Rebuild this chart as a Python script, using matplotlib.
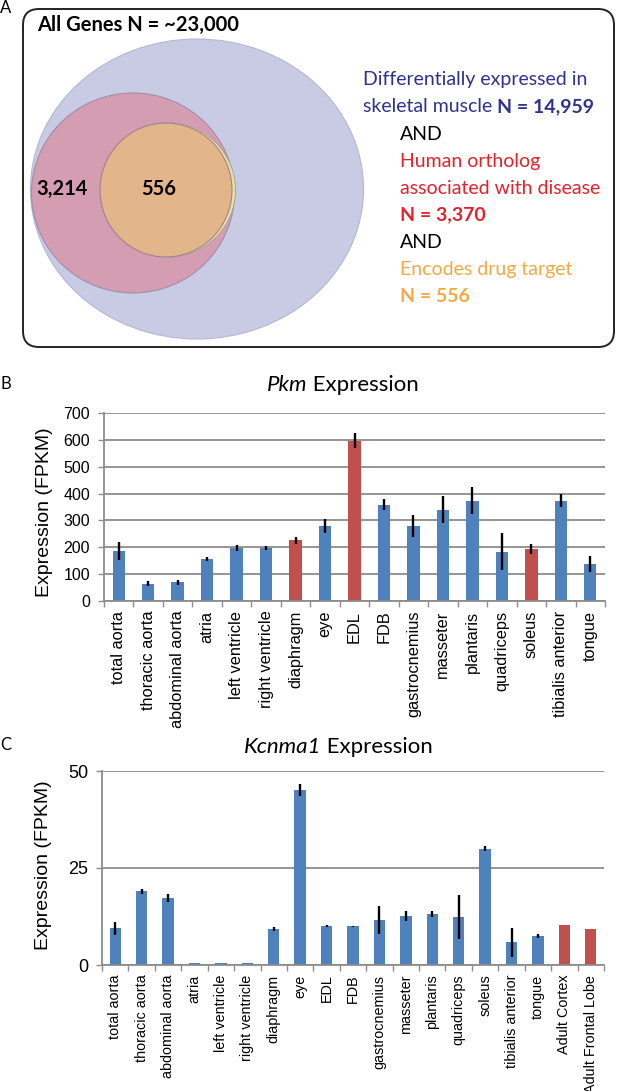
import matplotlib
matplotlib.use('Agg')
import matplotlib.pyplot as plt
from matplotlib.patches import Ellipse, FancyBboxPatch
import numpy as np

# ---- Panel A: gene counts ----
n_all = '~23,000'
n_diff = '14,959'
n_disease = '3,370'
n_drug = '556'
n_disease_only = '3,214'

# ---- Panel B: Pkm expression (FPKM) ----
pkm_tissues = ['total aorta', 'thoracic aorta', 'abdominal aorta', 'atria',
               'left ventricle', 'right ventricle', 'diaphragm', 'eye', 'EDL',
               'FDB', 'gastrocnemius', 'masseter', 'plantaris', 'quadriceps',
               'soleus', 'tibialis anterior', 'tongue']
pkm_mean = [185, 65, 70, 155, 198, 197, 226, 280, 596, 358, 280, 340, 373,
            184, 194, 373, 138]
pkm_err = [33, 8, 9, 7, 10, 8, 12, 25, 28, 20, 40, 50, 50, 70, 18, 24, 30]
pkm_red = ['diaphragm', 'EDL', 'soleus']

# ---- Panel C: Kcnma1 expression (FPKM) ----
kcn_tissues = pkm_tissues + ['Adult Cortex', 'Adult Frontal Lobe']
kcn_mean = [9.5, 19.0, 17.3, 0.4, 0.4, 0.4, 9.2, 45.1, 10.0, 10.0, 11.6, 12.7,
            13.1, 12.4, 30.0, 5.8, 7.5, 10.3, 9.2]
kcn_err = [1.7, 0.6, 1.1, 0, 0, 0, 0.5, 1.5, 0.3, 0.1, 3.6, 1.3, 0.8, 5.7,
           0.6, 3.7, 0.6, 0, 0]
kcn_red = ['Adult Cortex', 'Adult Frontal Lobe']

BLUE = '#4f81bd'
RED = '#c0504d'
GRID = '#8c8c8c'
VFONT = 'Lato'
CFONT = 'Liberation Sans'

W, H = 617, 1091
fig = plt.figure(figsize=(W / 100, H / 100), dpi=100)

# overlay in pixel coords for the venn, panel letters, titles
ov = fig.add_axes([0, 0, 1, 1])
ov.set_xlim(0, W)
ov.set_ylim(H, 0)
ov.axis('off')
ov.patch.set_alpha(0)

# Venn
ov.add_patch(FancyBboxPatch((23, 9), 591, 338, boxstyle='round,pad=0,rounding_size=16',
                            fc='none', ec='#222222', lw=1.4))
ov.add_patch(Ellipse((197, 189), 333, 300, fc='#c9cae3', ec='#b5b6d2', lw=0.8))
ov.add_patch(Ellipse((133, 193), 203, 200, fc='#d59db1', ec='#9d90aa', lw=0.8))
ov.add_patch(Ellipse((168, 190), 135, 134, fc='#e6e2a6', ec='#a8a090', lw=0.6))
ov.add_patch(Ellipse((166, 190), 132, 134, fc='#e2b68a', ec='#a08390', lw=0.8))

ov.text(37, 25, 'All Genes N = ' + n_all, fontsize=14.5, fontweight='bold',
        family=VFONT, va='center', ha='left')
ov.text(62, 189, n_disease_only, fontsize=14.5, fontweight='bold', family=VFONT,
        va='center', ha='center')
ov.text(159, 189, n_drug, fontsize=14.5, fontweight='bold', family=VFONT,
        va='center', ha='center')

c_blue, c_red, c_orange = '#2e3192', '#e8202a', '#f6a943'
fs = 14
def vtext(x, y, s, color, bold=False):
    return ov.text(x, y, s, fontsize=fs, family=VFONT, color=color, va='center',
                   ha='left', fontweight='bold' if bold else 'normal')

vtext(363, 80, 'Differentially expressed in', c_blue)
t = vtext(363, 107, 'skeletal muscle ', c_blue)
ov.annotate('N = ' + n_diff, xy=(1, 0), xycoords=t, va='bottom', ha='left',
            fontsize=fs, family=VFONT, color=c_blue, fontweight='bold')
vtext(400, 134, 'AND', 'black')
vtext(400, 162, 'Human ortholog', c_red)
vtext(400, 188, 'associated with disease', c_red)
vtext(400, 215, 'N = ' + n_disease, c_red, bold=True)
vtext(400, 242, 'AND', 'black')
vtext(400, 270, 'Encodes drug target', c_orange)
vtext(400, 296, 'N = ' + n_drug, c_orange, bold=True)

# panel letters
for lab, y in [('A', 8), ('B', 384), ('C', 745)]:
    ov.text(6, y, lab, fontsize=12, family=VFONT, va='center', ha='center')

# titles: italic gene name + plain word
for gene, xs, y in [('Pkm', 307, 385), ('Kcnma1', 321, 747)]:
    ov.text(xs, y, gene, fontsize=16, family=VFONT, style='italic',
            va='center', ha='right')
    ov.text(xs, y, ' Expression', fontsize=16, family=VFONT,
            va='center', ha='left')

ov.text(45, 512, 'Expression (FPKM)', fontsize=14, family=CFONT, rotation=90,
        va='center', ha='center')
ov.text(44, 865, 'Expression (FPKM)', fontsize=14, family=CFONT, rotation=90,
        va='center', ha='center')


def bar_panel(px, names, means, errs, reds, ymax, ystep, tick_fs, label_fs, width):
    left, right, top, bottom = px
    ax = fig.add_axes([left / W, 1 - bottom / H, (right - left) / W, (bottom - top) / H])
    x = np.arange(len(names))
    colors = [RED if n in reds else BLUE for n in names]
    ax.bar(x, means, width, color=colors, zorder=2)
    ax.errorbar(x, means, yerr=errs, fmt='none', ecolor='black', elinewidth=1.7,
                capsize=0, zorder=3)
    ax.set_xlim(-0.5, len(names) - 0.5)
    ax.set_ylim(0, ymax)
    ax.set_yticks(np.arange(0, ymax + 1, ystep))
    ax.yaxis.grid(True, color=GRID, lw=1.3)
    ax.set_axisbelow(True)
    ax.set_xticks(x)
    ax.set_xticklabels(names, rotation=90, fontsize=label_fs, family=CFONT)
    ax.set_xticks(np.arange(-0.5, len(names)), minor=True)
    ax.tick_params(axis='x', which='major', length=0, pad=7)
    ax.tick_params(axis='x', which='minor', length=4, width=1, color=GRID, direction='out')
    ax.tick_params(axis='y', length=4, width=1, color=GRID, labelsize=tick_fs, pad=6)
    for lbl in ax.get_yticklabels():
        lbl.set_family(CFONT)
    for s in ['top', 'right']:
        ax.spines[s].set_visible(False)
    for s in ['left', 'bottom']:
        ax.spines[s].set_color(GRID)
        ax.spines[s].set_linewidth(1.3)
    ax.patch.set_alpha(0)
    return ax


bar_panel((104, 605, 413, 601), pkm_tissues, pkm_mean, pkm_err, pkm_red,
          700, 100, 11.5, 11.8, 0.42)
bar_panel((102, 604, 771, 965), kcn_tissues, kcn_mean, kcn_err, kcn_red,
          50, 25, 13, 10.4, 0.43)

fig.savefig('out.png', dpi=100)
